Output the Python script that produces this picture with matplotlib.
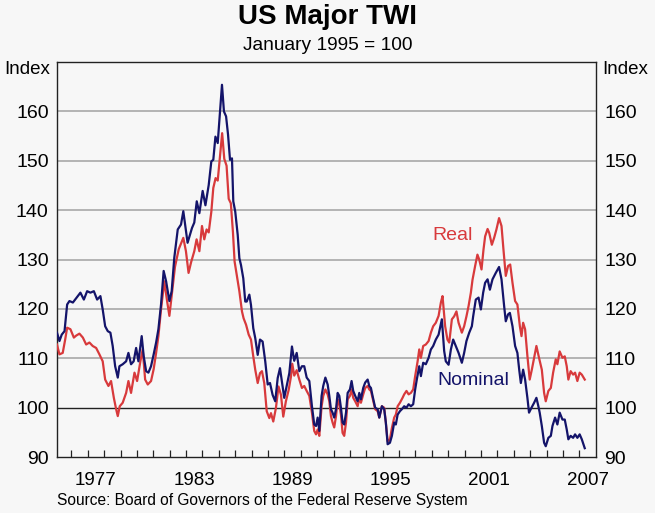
import matplotlib
matplotlib.use('Agg')
import matplotlib.pyplot as plt
import numpy as np

# decimal year, index (January 1995 = 100)
nomYear = [1975.12, 1975.27, 1975.41, 1975.58, 1975.74, 1975.88, 1976.09, 1976.23, 1976.39, 1976.55,
           1976.76, 1976.96, 1977.16, 1977.37, 1977.57, 1977.77, 1977.91, 1978.06, 1978.22, 1978.38,
           1978.52, 1978.67, 1978.83, 1978.93, 1979.13, 1979.34, 1979.48, 1979.64, 1979.80, 1979.95,
           1980.09, 1980.29, 1980.41, 1980.56, 1980.70, 1980.86, 1981.02, 1981.17, 1981.31, 1981.47,
           1981.63, 1981.78, 1981.98, 1982.12, 1982.28, 1982.49, 1982.69, 1982.83, 1982.95, 1983.09,
           1983.24, 1983.36, 1983.50, 1983.65, 1983.81, 1984.01, 1984.18, 1984.38, 1984.54, 1984.66,
           1984.79, 1984.93, 1985.07, 1985.19, 1985.31, 1985.44, 1985.56, 1985.68, 1985.80, 1985.88,
           1986.00, 1986.15, 1986.25, 1986.35, 1986.49, 1986.61, 1986.70, 1986.86, 1986.96, 1987.10,
           1987.22, 1987.37, 1987.51, 1987.67, 1987.83, 1987.98, 1988.12, 1988.28, 1988.44, 1988.59,
           1988.73, 1988.85, 1988.99, 1989.13, 1989.30, 1989.46, 1989.60, 1989.75, 1989.91, 1990.07,
           1990.21, 1990.36, 1990.52, 1990.68, 1990.82, 1990.93, 1991.03, 1991.13, 1991.27, 1991.37,
           1991.50, 1991.64, 1991.74, 1991.84, 1991.94, 1992.04, 1992.15, 1992.25, 1992.35, 1992.45,
           1992.55, 1992.65, 1992.76, 1992.86, 1993.00, 1993.10, 1993.20, 1993.32, 1993.47, 1993.57,
           1993.67, 1993.81, 1993.93, 1994.08, 1994.18, 1994.28, 1994.38, 1994.54, 1994.69, 1994.79,
           1994.95, 1995.09, 1995.19, 1995.30, 1995.44, 1995.56, 1995.70, 1995.80, 1995.91, 1996.05,
           1996.17, 1996.31, 1996.45, 1996.58, 1996.72, 1996.86, 1996.98, 1997.08, 1997.23, 1997.33,
           1997.47, 1997.63, 1997.80, 1997.94, 1998.08, 1998.24, 1998.41, 1998.61, 1998.75, 1998.85,
           1999.02, 1999.16, 1999.30, 1999.46, 1999.63, 1999.83, 1999.97, 2000.11, 2000.28, 2000.44,
           2000.52, 2000.68, 2000.85, 2000.99, 2001.13, 2001.25, 2001.40, 2001.54, 2001.70, 2001.90,
           2002.10, 2002.25, 2002.41, 2002.51, 2002.65, 2002.76, 2002.92, 2003.08, 2003.22, 2003.33,
           2003.43, 2003.57, 2003.69, 2003.83, 2003.93, 2004.08, 2004.24, 2004.38, 2004.50, 2004.58,
           2004.71, 2004.85, 2004.95, 2005.11, 2005.26, 2005.36, 2005.52, 2005.66, 2005.80, 2005.97,
           2006.11, 2006.23, 2006.33, 2006.47, 2006.62, 2006.74, 2006.88, 2007.02, 2007.15, 2007.33]
nomVal = [115.2, 113.5, 114.8, 115.5, 120.9, 121.6, 121.3, 121.9, 122.6, 123.3,
          121.9, 123.6, 123.3, 123.6, 121.9, 122.6, 119.9, 116.5, 115.5, 115.2,
          112.5, 108.4, 106.1, 108.4, 108.8, 109.4, 111.1, 108.8, 109.4, 112.1,
          109.4, 114.5, 110.5, 107.4, 107.1, 108.4, 110.8, 113.2, 115.9, 120.9,
          127.7, 125.6, 121.6, 123.6, 130.4, 136.1, 137.1, 139.8, 136.8, 133.4,
          135.1, 136.4, 137.5, 141.8, 139.4, 143.9, 141.0, 145.1, 149.9, 150.2,
          154.9, 153.6, 160.0, 165.4, 160.0, 159.0, 155.3, 150.2, 150.5, 141.8,
          139.7, 135.0, 130.3, 128.9, 126.2, 121.5, 121.5, 122.9, 120.8, 116.1,
          114.1, 110.7, 113.8, 113.4, 109.4, 104.7, 105.0, 102.6, 101.3, 106.0,
          108.0, 105.3, 102.0, 104.3, 107.0, 112.4, 109.5, 111.1, 107.4, 108.4,
          108.4, 106.1, 105.4, 100.3, 96.6, 96.3, 98.0, 95.3, 102.4, 104.4,
          106.1, 104.7, 102.4, 99.7, 99.0, 98.0, 99.7, 103.0, 102.4, 100.0,
          97.0, 96.6, 99.0, 103.0, 103.7, 105.4, 103.4, 102.4, 101.3, 103.0,
          101.7, 104.0, 105.1, 105.7, 104.4, 104.0, 102.4, 100.0, 99.7, 98.0,
          100.3, 99.7, 97.0, 92.6, 92.9, 94.3, 97.0, 96.6, 98.6, 99.3,
          99.7, 100.3, 100.0, 100.7, 100.3, 100.7, 103.7, 105.7, 108.4, 106.4,
          109.1, 108.8, 110.1, 111.8, 112.5, 113.8, 114.8, 117.9, 111.5, 109.4,
          108.7, 111.8, 113.8, 112.5, 111.1, 109.1, 111.1, 113.5, 115.2, 116.5,
          118.5, 121.9, 122.3, 119.9, 123.3, 125.3, 126.0, 123.9, 126.0, 127.3,
          128.5, 126.0, 120.6, 117.5, 118.9, 119.2, 116.5, 112.5, 111.1, 107.7,
          105.0, 107.7, 105.7, 102.0, 99.0, 100.0, 101.0, 102.0, 100.3, 99.0,
          96.3, 92.9, 92.2, 93.9, 94.3, 96.3, 98.0, 96.6, 99.0, 97.6,
          97.6, 95.6, 93.6, 94.3, 93.9, 94.6, 93.9, 94.6, 93.6, 91.8]

realYear = [1975.12, 1975.27, 1975.47, 1975.62, 1975.74, 1975.94, 1976.15, 1976.29, 1976.49, 1976.70,
            1976.90, 1977.10, 1977.30, 1977.51, 1977.71, 1977.91, 1978.06, 1978.26, 1978.42, 1978.59,
            1978.73, 1978.83, 1978.95, 1979.13, 1979.34, 1979.48, 1979.64, 1979.85, 1980.01, 1980.21,
            1980.35, 1980.50, 1980.66, 1980.86, 1981.02, 1981.17, 1981.31, 1981.47, 1981.67, 1981.84,
            1981.98, 1982.12, 1982.32, 1982.55, 1982.83, 1982.99, 1983.15, 1983.30, 1983.50, 1983.64,
            1983.81, 1983.97, 1984.11, 1984.25, 1984.38, 1984.54, 1984.66, 1984.80, 1984.93, 1985.07,
            1985.20, 1985.33, 1985.47, 1985.60, 1985.73, 1985.86, 1985.96, 1986.09, 1986.25, 1986.41,
            1986.51, 1986.66, 1986.82, 1986.96, 1987.10, 1987.22, 1987.37, 1987.51, 1987.63, 1987.77,
            1987.92, 1988.08, 1988.18, 1988.32, 1988.48, 1988.64, 1988.79, 1988.93, 1989.09, 1989.26,
            1989.40, 1989.48, 1989.60, 1989.75, 1989.91, 1990.07, 1990.21, 1990.36, 1990.52, 1990.68,
            1990.82, 1990.93, 1991.03, 1991.13, 1991.27, 1991.37, 1991.50, 1991.64, 1991.74, 1991.84,
            1991.94, 1992.04, 1992.15, 1992.25, 1992.35, 1992.45, 1992.55, 1992.65, 1992.76, 1992.86,
            1993.00, 1993.10, 1993.20, 1993.32, 1993.47, 1993.57, 1993.67, 1993.81, 1993.93, 1994.08,
            1994.18, 1994.28, 1994.38, 1994.54, 1994.69, 1994.79, 1994.95, 1995.09, 1995.19, 1995.30,
            1995.44, 1995.56, 1995.70, 1995.80, 1995.91, 1996.05, 1996.21, 1996.31, 1996.45, 1996.58,
            1996.72, 1996.86, 1996.98, 1997.13, 1997.23, 1997.33, 1997.47, 1997.63, 1997.80, 1997.94,
            1998.08, 1998.24, 1998.41, 1998.55, 1998.65, 1998.81, 1998.95, 1999.06, 1999.22, 1999.36,
            1999.50, 1999.63, 1999.83, 1999.97, 2000.11, 2000.24, 2000.38, 2000.48, 2000.64, 2000.78,
            2000.89, 2001.03, 2001.15, 2001.25, 2001.40, 2001.50, 2001.66, 2001.80, 2001.94, 2002.10,
            2002.25, 2002.37, 2002.51, 2002.65, 2002.78, 2002.92, 2003.08, 2003.22, 2003.37, 2003.47,
            2003.57, 2003.69, 2003.83, 2003.97, 2004.10, 2004.24, 2004.38, 2004.54, 2004.71, 2004.85,
            2004.95, 2005.11, 2005.26, 2005.40, 2005.56, 2005.66, 2005.80, 2005.97, 2006.11, 2006.23,
            2006.33, 2006.47, 2006.62, 2006.74, 2006.88, 2007.02, 2007.15, 2007.33]
realVal = [112.8, 110.8, 111.1, 113.8, 116.2, 115.9, 114.2, 114.6, 115.0, 114.2,
           112.8, 113.2, 112.5, 112.1, 110.8, 109.4, 105.7, 104.4, 105.4, 102.0,
           99.7, 98.3, 100.3, 101.0, 103.0, 105.4, 103.0, 107.1, 105.4, 109.4,
           111.8, 105.7, 104.7, 105.4, 107.8, 111.1, 114.5, 119.9, 125.6, 121.6,
           118.6, 122.6, 128.5, 132.1, 134.4, 131.7, 127.3, 129.4, 131.7, 134.1,
           131.7, 136.8, 134.1, 136.1, 135.5, 139.7, 144.5, 146.5, 146.0, 151.0,
           155.6, 150.4, 149.0, 142.3, 141.4, 135.5, 129.6, 126.9, 123.6, 119.5,
           118.1, 116.8, 114.8, 113.8, 110.4, 107.7, 105.0, 107.0, 107.4, 105.0,
           99.3, 97.9, 98.9, 97.2, 99.9, 104.3, 102.6, 98.2, 101.3, 103.6,
           106.3, 108.9, 106.5, 107.6, 105.7, 104.0, 104.4, 103.4, 102.4, 99.0,
           95.3, 94.6, 95.6, 94.3, 100.3, 102.4, 103.7, 102.7, 101.3, 98.3,
           97.0, 96.0, 98.3, 101.7, 100.7, 98.6, 94.9, 94.3, 97.0, 101.7,
           102.4, 103.7, 102.0, 101.3, 100.3, 102.0, 101.0, 102.7, 104.0, 104.4,
           103.7, 103.4, 102.0, 99.7, 99.3, 98.0, 100.3, 100.0, 97.0, 93.2,
           93.6, 95.9, 98.0, 98.6, 100.3, 101.0, 102.0, 102.7, 103.4, 102.7,
           103.0, 103.7, 106.4, 109.4, 111.8, 110.1, 112.5, 112.8, 113.5, 115.2,
           116.5, 117.2, 118.6, 121.3, 122.6, 116.5, 113.8, 113.2, 117.9, 118.5,
           119.5, 117.2, 115.2, 116.5, 118.5, 120.6, 123.3, 125.9, 128.7, 131.0,
           130.0, 128.0, 132.0, 134.7, 136.2, 135.4, 133.0, 134.4, 136.1, 138.4,
           136.8, 132.0, 126.7, 128.7, 129.0, 125.3, 121.6, 120.9, 116.5, 114.5,
           117.2, 115.9, 110.5, 105.7, 107.7, 110.1, 112.5, 110.1, 107.7, 103.0,
           101.3, 103.4, 104.0, 107.1, 109.8, 108.8, 111.4, 110.1, 110.4, 108.4,
           105.7, 107.4, 106.7, 107.1, 105.4, 107.1, 106.7, 105.7]

yearLabels = [1977, 1983, 1989, 1995, 2001, 2007]
yTicks = [90, 100, 110, 120, 130, 140, 150, 160]


def main():
    plt.rcParams['font.family'] = ['Liberation Sans', 'DejaVu Sans']
    bg = '#f7f7f7'
    navy = '#14146a'
    red = '#d83a3c'

    fig = plt.figure(figsize=(6.55, 5.13), dpi=100, facecolor=bg)
    ax = fig.add_axes([0.087, 0.109, 0.8225, 0.770], facecolor=bg)

    for v in yTicks[2:]:
        ax.axhline(v, color='#a8a8a8', lw=1.2, zorder=1)
    ax.axhline(100, color='#222222', lw=1.0, zorder=1)

    ax.plot(realYear, realVal, color=red, lw=1.6, zorder=3)
    ax.plot(nomYear, nomVal, color=navy, lw=1.6, zorder=4)

    ax.text(1999.24, 134.9, 'Real', color=red, fontsize=14, ha='center', va='center')
    ax.text(2000.52, 105.5, 'Nominal', color=navy, fontsize=14, ha='center', va='center')

    ax.set_xlim(1975.12, 2008.0)
    ax.set_ylim(90, 170)

    # year labels sit in the middle of each year, ticks mark the year boundaries
    ax.set_xticks([y + 0.5 for y in yearLabels])
    ax.set_xticklabels([str(y) for y in yearLabels])
    ax.set_xticks(np.arange(1976, 2008), minor=True)
    ax.tick_params(axis='x', which='major', length=0, pad=11, labelsize=13.5)
    ax.tick_params(axis='x', which='minor', direction='in', length=5, width=0.9, color='#222222')

    ax.set_yticks(yTicks)
    ax.tick_params(axis='y', which='major', length=0, pad=6, labelsize=14,
                   labelleft=True, labelright=True)

    for s in ax.spines.values():
        s.set_color('#222222')
        s.set_linewidth(1.0)

    fig.text(50 / 655, 1 - 70 / 513, 'Index', fontsize=13.5, ha='right', va='center')
    fig.text(602 / 655, 1 - 70 / 513, 'Index', fontsize=13.5, ha='left', va='center')

    fig.text(0.5, 1 - 17 / 513, 'US Major TWI', fontsize=20, fontweight='bold', ha='center', va='center')
    fig.text(0.5, 1 - 45 / 513, 'January 1995 = 100', fontsize=13.8, ha='center', va='center')
    fig.text(57 / 655, 1 - 500 / 513, 'Source: Board of Governors of the Federal Reserve System',
             fontsize=11.2, ha='left', va='center')

    fig.savefig('out.png', dpi=100, facecolor=bg)


main()
